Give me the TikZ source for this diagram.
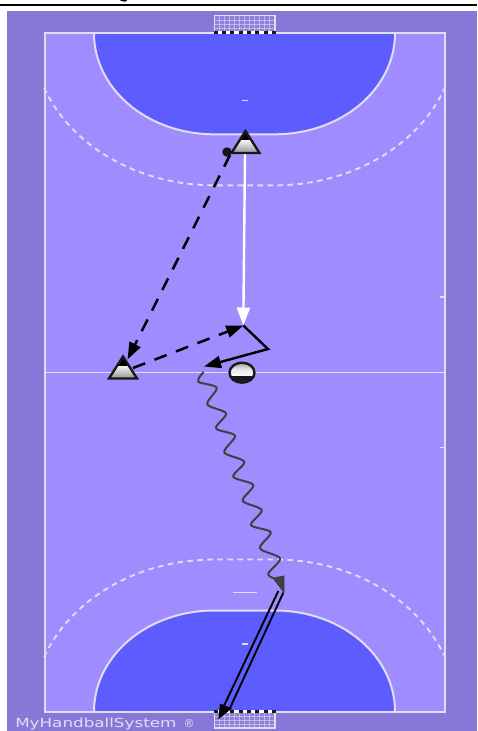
\documentclass[tikz,border=0pt]{standalone}
\usepackage{fontspec}
\setmainfont{DejaVu Sans}
\usetikzlibrary{arrows.meta,shapes.geometric}
\definecolor{outerbg}{HTML}{8778D8}
\definecolor{court}{HTML}{9F8CFF}
\definecolor{goalarea}{HTML}{5C5CFF}
\definecolor{linecol}{HTML}{E2DEF2}
\definecolor{wavecol}{HTML}{404040}
\tikzset{
  x=1pt,y=-1pt,
  courtline/.style={draw=linecol,line width=2pt},
  ninem/.style={draw=linecol,line width=1.9pt,dash pattern=on 5.5pt off 4.5pt},
  mark7/.style={draw=linecol,line width=1.8pt},
  passline/.style={draw=black,line width=2.5pt,dash pattern=on 13pt off 10pt},
  tipblack/.style={-{Triangle[length=17pt,width=12pt]}},
  runline/.style={draw=black,line width=2.4pt,line join=miter},
  whiterun/.style={draw=white,line width=2.4pt,-{Triangle[length=18pt,width=13pt,fill=white]}},
  waveline/.style={draw=wavecol,line width=2pt,line cap=round},
  shotline/.style={draw=black,line width=1.9pt},
  pics/player/.style={code={
    \begin{scope}
      \clip (0,-22) -- (14,0) -- (-14,0) -- cycle;
      \shade[top color=white,bottom color=black!42] (-14,-14) rectangle (14,0);
      \fill[black] (-14,-23) rectangle (14,-13);
    \end{scope}
    \draw[black!90,line width=2.4pt,line join=miter] (0,-22) -- (14,0) -- (-14,0) -- cycle;
  }},
}
\newcommand{\goalnet}[2]{%
  \fill[white,opacity=.08] (214.3,#1) rectangle (275,#2);
  \foreach \gx in {219.3,224.3,...,271} \draw[white,opacity=.4,line width=.5pt] (\gx,#1) -- (\gx,#2);
  \foreach \gy in {1,2,3} \draw[white,opacity=.4,line width=.5pt] (214.3,{#1+(#2-#1)*\gy/4}) -- (275,{#1+(#2-#1)*\gy/4});
  \draw[linecol,line width=1.1pt] (214.3,#1) rectangle (275,#2);
}
\newcommand{\goalbar}[1]{%
  \fill[white] (213.5,#1-1.6) rectangle (276,#1+1.6);
  \foreach \gi in {0,...,7} \fill[black!90] ({213.5+\gi*8.35},#1-1.7) rectangle ({213.5+\gi*8.35+4.2},#1+1.7);
}
\begin{document}
\begin{tikzpicture}
\useasboundingbox (0,0) rectangle (477,731);
\fill[white] (0,0) rectangle (477,731);
\begin{scope}
\clip (0,0) rectangle (477,731);
% header rule
\fill[black] (0,4) rectangle (477,6.3);
\draw[black,line width=1.4pt] (120.5,0) -- (125,1) -- (126.5,0);
% floor
\fill[outerbg] (7,11) rectangle (477,731);
\fill[court] (44.5,33.3) rectangle (445,711.5);
% goal areas
\path[fill=goalarea,courtline]
  plot[domain=180:90,samples=50] ({214+120*cos(\x)},{33.3+101*sin(\x)})
  -- plot[domain=90:0,samples=50] ({275+120*cos(\x)},{33.3+101*sin(\x)});
\path[fill=goalarea,courtline]
  plot[domain=180:90,samples=50] ({214+120*cos(\x)},{711.5-101*sin(\x)})
  -- plot[domain=90:0,samples=50] ({275+120*cos(\x)},{711.5-101*sin(\x)});
% free throw lines
\draw[ninem] plot[domain=159:90,samples=60] ({214+182*cos(\x)},{33.3+152*sin(\x)})
  -- plot[domain=90:21,samples=60] ({275+182*cos(\x)},{33.3+152*sin(\x)});
\draw[ninem] plot[domain=159:90,samples=60] ({214+182*cos(\x)},{711.5-152*sin(\x)})
  -- plot[domain=90:21,samples=60] ({275+182*cos(\x)},{711.5-152*sin(\x)});
% court lines
\draw[courtline] (44.5,33.3) rectangle (445,711.5);
\draw[courtline,line width=1.6pt] (44.5,372.5) -- (445,372.5);
\draw[mark7] (242,100.5) -- (248,100.5);
\draw[mark7] (242,644) -- (248,644);
\draw[mark7] (233,592.5) -- (257,592.5);
\draw[mark7] (440,297) -- (445,297);
\draw[mark7] (440,447.5) -- (445,447.5);
% goals
\goalnet{15.7}{32}
\goalnet{712}{728}
\goalbar{32.6}
\goalbar{711.4}
% anchors
\coordinate (playerTop) at (245.5,153);
\coordinate (playerLeft) at (123,378.5);
\coordinate (passAStart) at (230,155);
\coordinate (passAEnd) at (127.5,359.5);
\coordinate (passBStart) at (133,368);
\coordinate (cut) at (243.3,325.5);
\coordinate (turn) at (268,349);
\coordinate (runEnd) at (204,366.5);
\coordinate (runStart) at (245,153);
\coordinate (waveStart) at (203.3,372.3);
\coordinate (waveEnd) at (273,578);
\coordinate (headR) at (284,576);
\coordinate (headTip) at (284,592.5);
\coordinate (shotA) at (278.3,591);
\coordinate (shotB) at (283.3,592.7);
\coordinate (shotAEnd) at (222.5,709);
\coordinate (shotBEnd) at (229.5,709);
\coordinate (shotTip) at (218.3,719.3);
\coordinate (shotHeadA) at (220,703.5);
\coordinate (shotHeadB) at (232,708.3);
% connectors
\draw[whiterun] (runStart) -- (cut);
\draw[passline,tipblack] (passAStart) -- (passAEnd);
\draw[passline,tipblack] (passBStart) -- (cut);
\draw[runline,tipblack] (cut) -- (turn) -- (runEnd);
\draw[waveline] plot[smooth,tension=.5] coordinates {(waveStart) (198.3,381.7) (216.7,387.7) (207.3,404.3) (226,413.3) (216,428.3) (235,435.7) (224.3,452.3) (244.3,461.7) (233.3,476.7) (253.3,485) (242.7,500.7) (261.7,510) (251,525) (270.7,532.3) (260,548.3) (280,558.3) (268.3,573.3) (waveEnd)};
\fill[wavecol] (waveEnd) -- (headR) -- (headTip) -- cycle;
\draw[wavecol,line width=.8pt,line join=round] (waveEnd) -- (headR) -- (headTip) -- cycle;
\draw[shotline] (shotA) -- (shotAEnd);
\draw[shotline] (shotB) -- (shotBEnd);
\fill[black] (shotHeadA) -- (shotHeadB) -- (shotTip) -- cycle;
% players
\pic at (playerTop) {player};
\pic at (playerLeft) {player};
\node[circle,fill=black!92,inner sep=0pt,minimum size=9.5pt] (ballTop) at (227,152) {};
% ball
\begin{scope}
\clip (242,372.7) ellipse [x radius=13, y radius=10.5];
\shade[top color=black!40,bottom color=white,middle color=white!90!black] (229,362) rectangle (255,376);
\fill[black!90] (229,376) rectangle (255,384);
\end{scope}
\node[ellipse,draw=black!90,line width=2.4pt,minimum width=25pt,minimum height=20pt,inner sep=0pt] (ballMid) at (242,372.7) {};
% watermark
\node[anchor=base west,inner sep=0pt,text=linecol,xscale=1.34,font=\fontsize{12.5}{14}\selectfont] (markText) at (15,727.5) {MyHandballSystem};
\node[anchor=base,inner sep=0pt,text=linecol,font=\fontsize{11}{12}\selectfont] (markR) at (189,727.5) {®};
\end{scope}
\end{tikzpicture}
\end{document}
